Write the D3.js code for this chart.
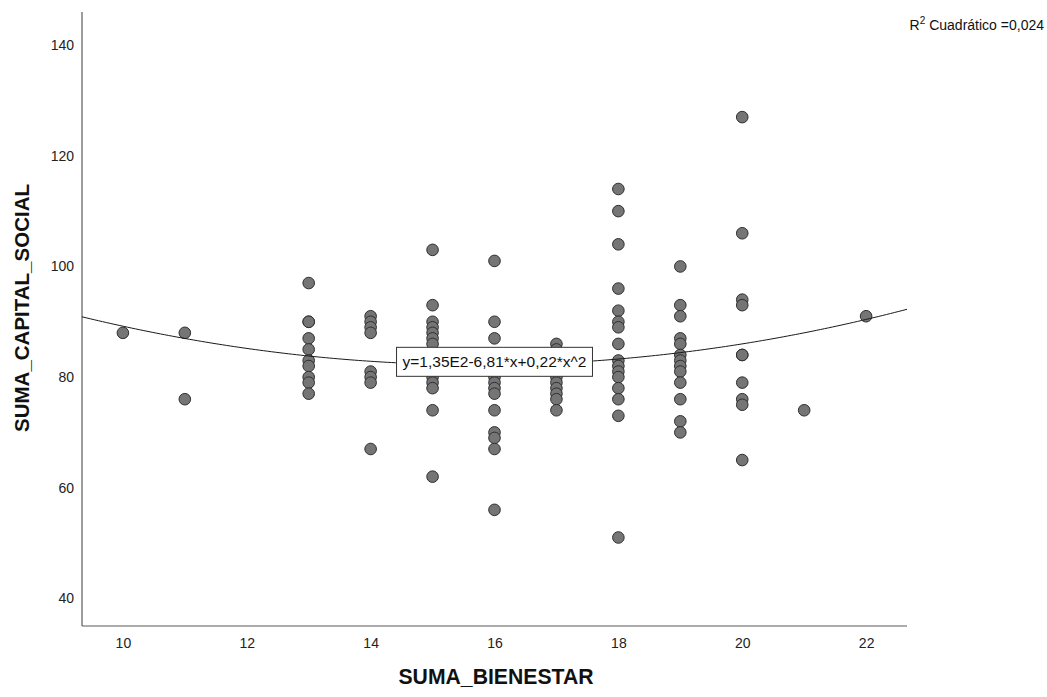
<!DOCTYPE html>
<html>
<head>
<meta charset="utf-8">
<script src="https://cdn.jsdelivr.net/npm/d3@7"></script>
<style>
  html, body { margin: 0; padding: 0; background: #fff; }
  svg { display: block; font-family: "Liberation Sans", Arial, sans-serif; }
</style>
</head>
<body>
<svg id="chart" width="1047" height="697"></svg>
<script>
// ---- data ----
const xTicks = [10, 12, 14, 16, 18, 20, 22];
const yTicks = [40, 60, 80, 100, 120, 140];

const bienestar = [
  10,
  11, 11,
  13, 13, 13, 13, 13, 13, 13, 13, 13, 13,
  14, 14, 14, 14, 14, 14, 14, 14,
  15, 15, 15, 15, 15, 15, 15, 15, 15, 15, 15, 15,
  16, 16, 16, 16, 16, 16, 16, 16, 16, 16, 16, 16, 16,
  17, 17, 17, 17, 17, 17, 17, 17, 17, 17,
  18, 18, 18, 18, 18, 18, 18, 18, 18, 18, 18, 18, 18, 18, 18, 18,
  19, 19, 19, 19, 19, 19, 19, 19, 19, 19, 19, 19, 19,
  20, 20, 20, 20, 20, 20, 20, 20, 20, 20,
  21,
  22
];
const capitalSocial = [
  88,
  88, 76,
  97, 90, 90, 87, 85, 83, 82, 80, 79, 77,
  91, 90, 89, 88, 81, 80, 79, 67,
  103, 93, 90, 89, 88, 87, 86, 80, 79, 78, 74, 62,
  101, 90, 87, 82, 80, 79, 78, 77, 74, 70, 69, 67, 56,
  86, 85, 84, 81, 80, 79, 78, 77, 76, 74,
  114, 110, 104, 96, 92, 90, 89, 86, 83, 82, 81, 80, 78, 76, 73, 51,
  100, 93, 91, 87, 86, 84, 83, 82, 81, 79, 76, 72, 70,
  127, 106, 94, 93, 84, 84, 79, 76, 75, 65,
  74,
  91
];
// quadratic fit curve as drawn (c0 + c1*x + c2*x^2)
const fitCoef = [134.6, -6.65, 0.211];
const fitLabel = "y=1,35E2-6,81*x+0,22*x^2";
const r2Value = "0,024";
const xTitle = "SUMA_BIENESTAR";
const yTitle = "SUMA_CAPITAL_SOCIAL";

// ---- layout ----
const svg = d3.select("#chart");
const mLeft = 82, mRight = 907, mTop = 12, mBottom = 626;

const x = d3.scaleLinear().domain([9.34, 22.66]).range([mLeft, mRight]);
const y = d3.scaleLinear().domain([35, 146]).range([mBottom, mTop]);

const axisColor = "#5a5a5a";

// axes
const gx = svg.append("g").attr("transform", `translate(0,${mBottom})`)
  .call(d3.axisBottom(x).tickValues(xTicks).tickSize(0).tickPadding(12).tickFormat(d3.format("d")));
const gy = svg.append("g").attr("transform", `translate(${mLeft},0)`)
  .call(d3.axisLeft(y).tickValues(yTicks).tickSize(0).tickPadding(8).tickFormat(d3.format("d")));
[gx, gy].forEach(g => {
  g.select(".domain").remove();
  g.selectAll("text").attr("font-size", 14).attr("fill", "#222")
    .attr("font-family", "'Liberation Sans', Arial, sans-serif");
});
svg.append("line").attr("x1", mLeft).attr("x2", mLeft).attr("y1", mTop).attr("y2", mBottom)
  .attr("stroke", axisColor).attr("stroke-width", 1.2);
svg.append("line").attr("x1", mLeft).attr("x2", mRight).attr("y1", mBottom).attr("y2", mBottom)
  .attr("stroke", axisColor).attr("stroke-width", 1.2);

// points
const pts = bienestar.map((b, i) => ({ x: b, y: capitalSocial[i] }));
svg.append("g").selectAll("circle").data(pts).join("circle")
  .attr("cx", d => x(d.x)).attr("cy", d => y(d.y)).attr("r", 5.8)
  .attr("fill", "#757575").attr("stroke", "#2e2e2e").attr("stroke-width", 1);

// fit curve
const f = v => fitCoef[0] + fitCoef[1] * v + fitCoef[2] * v * v;
const [x0, x1] = x.domain();
const curvePts = d3.range(0, 201).map(i => x0 + (x1 - x0) * i / 200);
svg.append("path").datum(curvePts)
  .attr("d", d3.line().x(v => x(v)).y(v => y(f(v))))
  .attr("fill", "none").attr("stroke", "#1a1a1a").attr("stroke-width", 1);

// fit label box on the curve near x = 16
const lx = x(16), ly = y(f(16)) - 3;
const lg = svg.append("g");
const rect = lg.append("rect");
const lt = lg.append("text").attr("x", lx).attr("y", ly).attr("text-anchor", "middle")
  .attr("dominant-baseline", "central").attr("font-size", 15.5).attr("fill", "#111").text(fitLabel);
const tw = lt.node().getComputedTextLength();
rect.attr("x", lx - tw / 2 - 6).attr("width", tw + 12).attr("y", ly - 14.5).attr("height", 29)
  .attr("fill", "#fff").attr("stroke", "#333").attr("stroke-width", 1);

// R² annotation
const r2 = svg.append("text").attr("x", 1044).attr("y", 30).attr("text-anchor", "end")
  .attr("font-size", 14).attr("fill", "#111");
r2.append("tspan").text("R");
r2.append("tspan").attr("font-size", 10).attr("dy", -6).text("2");
r2.append("tspan").attr("dy", 6).text(" Cuadrático =" + r2Value);

// axis titles
svg.append("text").attr("x", 496).attr("y", 684).attr("text-anchor", "middle")
  .attr("font-size", 21.2).attr("font-weight", "bold").attr("fill", "#111").text(xTitle);
svg.append("text").attr("transform", "translate(29,308) rotate(-90)").attr("text-anchor", "middle")
  .attr("font-size", 20.5).attr("font-weight", "bold").attr("fill", "#111").text(yTitle);
</script>
</body>
</html>
